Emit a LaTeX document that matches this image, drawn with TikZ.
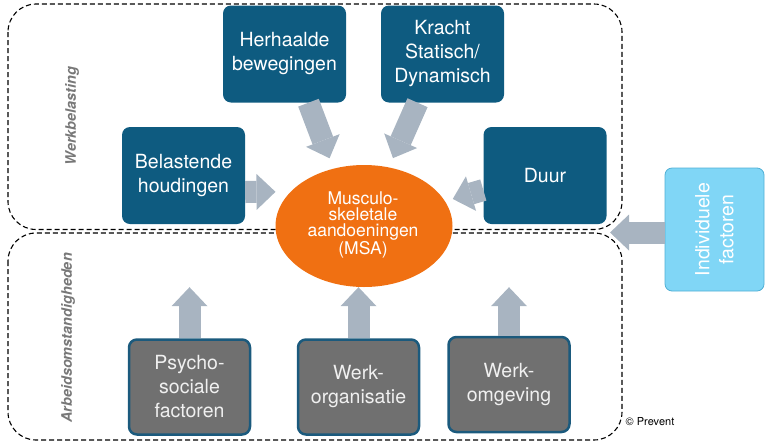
\documentclass[tikz,border=0pt]{standalone}
\usepackage{fontspec}
\setmainfont{TeX Gyre Heros}
\usetikzlibrary{arrows.meta, shapes.geometric}
\definecolor{loadblue}{RGB}{14,91,128}
\definecolor{condgray}{RGB}{112,112,112}
\definecolor{condedge}{RGB}{27,90,125}
\definecolor{msaorange}{RGB}{240,112,18}
\definecolor{indblue}{RGB}{128,214,246}
\definecolor{indedge}{RGB}{80,175,212}
\definecolor{flowgray}{RGB}{168,180,193}
\definecolor{groupgray}{RGB}{120,120,120}

\begin{document}
\begin{tikzpicture}[x=1pt, y=-1pt, >={Triangle[width=36pt, length=19pt, line width=0pt]},
  loadbox/.style={fill=loadblue, rounded corners=8pt, minimum width=123pt, minimum height=97pt,
    text=white, align=center, font=\fontsize{19.5}{24}\selectfont},
  condbox/.style={loadbox, fill=condgray, draw=condedge, line width=2.5pt, text=white!94!black,
    minimum width=121pt, minimum height=95pt},
  flow/.style={->, draw=flowgray, line width=22pt},
  group/.style={dashed, dash pattern=on 5pt off 3pt, line width=1.1pt, rounded corners=28pt},
  grouplabel/.style={rotate=90, text=groupgray, font=\fontsize{14.5}{16}\selectfont\bfseries\itshape}]
\useasboundingbox (0,0) rectangle (770,445);

% groups
\draw[group] (8,4) rectangle (622,229.5);
\draw[group] (8,233) rectangle (622,440);
\node[grouplabel] (wb) at (72,116) {Werkbelasting};
\node[grouplabel] (ao) at (68,338) {Arbeidsomstandigheden};

% werkbelasting
\node[loadbox] (herh) at (284.5,54) {Herhaalde\\bewegingen};
\node[loadbox] (kracht) at (442.5,54) {Kracht\\Statisch/\\Dynamisch};
\node[loadbox] (bel) at (183.5,175.5) {Belastende\\houdingen};
\node[loadbox] (duur) at (545,175.5) {Duur};

% centre
\node[ellipse, fill=msaorange, minimum width=177pt, minimum height=122pt, inner sep=0pt] (msa) at (364,226) {};
\node[text=white, align=center, font=\fontsize{17.5}{16.3}\selectfont] (msatext) at (363,225)
  {Musculo-\\skeletale\\aandoeningen\\(MSA)};

% arbeidsomstandigheden
\node[condbox] (psy) at (189.5,387) {Psycho-\\sociale\\factoren};
\node[condbox] (org) at (358.5,387) {Werk-\\organisatie};
\node[condbox] (omg) at (509,384.5) {Werk-\\omgeving};

% individuele factoren
\node[fill=indblue, draw=indedge, line width=0.8pt, rounded corners=7pt, rotate=90,
  minimum width=123pt, minimum height=99pt, text=white, align=center,
  font=\fontsize{19.5}{24}\selectfont] (ind) at (714.5,229.5) {Individuele\\factoren};
\coordinate (seam) at (610,232.5);

% arrows
\draw[flow, shorten >=11pt] ([xshift=24pt]herh.south) -- (msa.118);
\draw[flow, shorten >=10pt] ([xshift=-25pt]kracht.south) -- (msa.67);
\draw[flow, shorten >=15pt] ([yshift=-16.5pt]bel.east) -- (msa.155);
\draw[flow, shorten >=8pt] ([yshift=-14.5pt]duur.west) -- (msa.17);
\draw[flow] (psy.north) -- (psy.north |- msa.south);
\draw[flow] (org.north) -- (org.north |- msa.south);
\draw[flow] (omg.north) -- (omg.north |- msa.south);
\draw[flow] (ind.north |- seam) -- (seam);

\node[font=\fontsize{11}{13}\selectfont] (copy) at (650,422) {\textcopyright{} Prevent};
\end{tikzpicture}
\end{document}
